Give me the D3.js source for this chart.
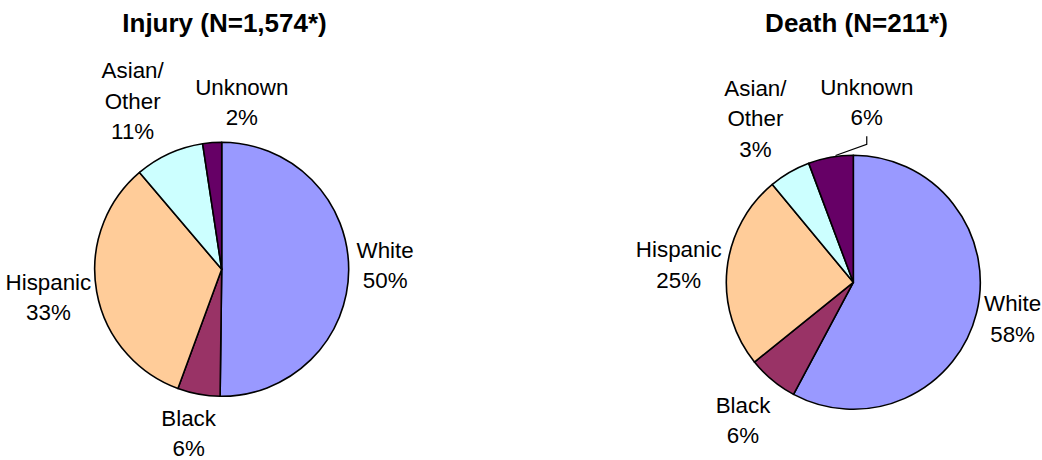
<!DOCTYPE html>
<html>
<head>
<meta charset="utf-8">
<script src="https://cdn.jsdelivr.net/npm/d3@7"></script>
<style>
  html, body { margin: 0; padding: 0; background: #fff; }
  svg { display: block; font-family: "Liberation Sans", Arial, sans-serif; }
</style>
</head>
<body>
<svg id="chart" width="1042" height="460"></svg>
<script>
// ---- Data ----
const categories = ["White", "Black", "Hispanic", "Asian/Other", "Unknown"];
const injuryTitle = "Injury (N=1,574*)";
const injuryShares = [50.2, 5.4, 33.2, 8.8, 2.4];        // slice sizes
const injuryLabels = ["50%", "6%", "33%", "11%", "2%"];   // printed labels
const deathTitle = "Death (N=211*)";
const deathShares = [57.8, 6.4, 24.8, 5.3, 5.7];
const deathLabels = ["58%", "6%", "25%", "3%", "6%"];
const colors = ["#9999FF", "#993366", "#FFCC99", "#CCFFFF", "#660066"];

// ---- Layout ----
const layout = [
  { title: injuryTitle, shares: injuryShares, labels: injuryLabels,
    cx: 221.7, cy: 269.3, r: 127, titleX: 224.5,
    nudges: [[-8,-5],[-2,-4.5],[-4.5,-1.6],[-18,-12],[33,4]], leader: [] },
  { title: deathTitle, shares: deathShares, labels: deathLabels,
    cx: 853.3, cy: 282.3, r: 127, titleX: 856.5,
    nudges: [[-7,-5],[-1,6],[-4,0],[-12,-15],[44,-11]], leader: [4] }
];
const fs = 21.5, lh = 30.5;

const svg = d3.select("#chart");
const colorScale = d3.scaleOrdinal().domain(categories).range(colors);

layout.forEach(cfg => {
  const data = categories.map((c, i) => ({ cat: c, value: cfg.shares[i], label: cfg.labels[i], i }));
  const pie = d3.pie().value(d => d.value).sort(null);
  const arcs = pie(data);
  const arc = d3.arc().innerRadius(0).outerRadius(cfg.r);

  svg.append("text")
    .attr("transform", `translate(${cfg.titleX},32) scale(1.04,1)`)
    .attr("text-anchor", "middle")
    .attr("font-size", 25).attr("font-weight", "bold")
    .attr("fill", "#000")
    .text(cfg.title);

  const g = svg.append("g").attr("transform", `translate(${cfg.cx},${cfg.cy})`);
  g.selectAll("path").data(arcs).join("path")
    .attr("d", arc)
    .attr("fill", d => colorScale(d.data.cat))
    .attr("stroke", "#000")
    .attr("stroke-width", 1.6)
    .attr("stroke-linejoin", "round");

  const k = 1.35 * cfg.r;
  arcs.forEach(a => {
    const mid = (a.startAngle + a.endAngle) / 2;
    const nx = cfg.nudges[a.data.i][0], ny = cfg.nudges[a.data.i][1];
    const x = Math.sin(mid) * k + nx;
    const y = -Math.cos(mid) * k + ny;
    const lines = a.data.cat === "Asian/Other" ? ["Asian/", "Other", a.data.label] : [a.data.cat, a.data.label];
    const y0 = y - (lines.length - 1) * lh / 2 + 7.5;
    const t = g.append("text")
      .attr("transform", `translate(${x},0) scale(1.04,1)`)
      .attr("text-anchor", "middle")
      .attr("font-size", fs)
      .attr("fill", "#000");
    lines.forEach((ln, j) => {
      t.append("tspan").attr("x", 0).attr("y", y0 + j * lh).text(ln);
    });
    if (cfg.leader.includes(a.data.i)) {
      const lastBase = y0 + (lines.length - 1) * lh;
      const px = Math.sin(mid + 0.04) * (cfg.r + 1), py = -Math.cos(mid + 0.04) * (cfg.r + 1);
      g.append("path")
        .attr("d", `M${x},${lastBase + 11}L${x},${lastBase + 19}L${px},${py}`)
        .attr("fill", "none").attr("stroke", "#000").attr("stroke-width", 1.2);
    }
  });
});
</script>
</body>
</html>
